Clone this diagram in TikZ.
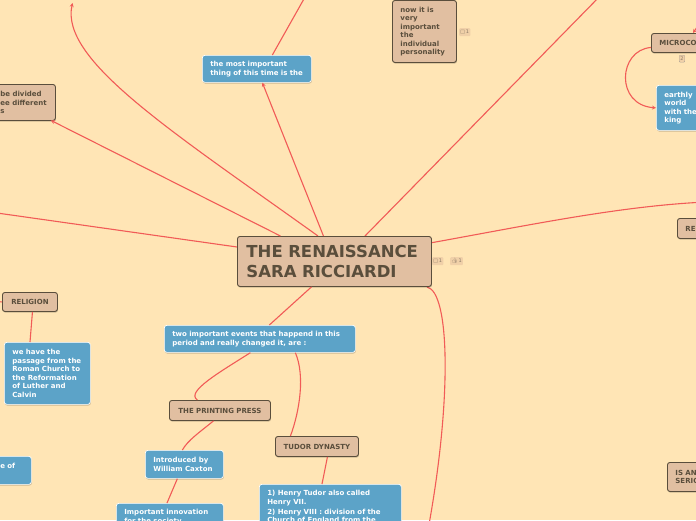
\documentclass[tikz,border=0pt]{standalone}
\usepackage{fontspec}
\setmainfont{DejaVu Sans}
\newfontfamily\emojifont{Noto Emoji}
\usepackage{tikz}
\usetikzlibrary{arrows.meta,positioning,shadows}
\definecolor{paper}{HTML}{FFE5B5}
\definecolor{tan}{HTML}{E1BFA1}
\definecolor{bark}{HTML}{5A4E3C}
\definecolor{sky}{HTML}{5CA3C8}
\definecolor{link}{HTML}{F15B57}
\definecolor{chip}{HTML}{F0D0A8}
\definecolor{chiptext}{HTML}{8C7A66}

\begin{document}
\begin{tikzpicture}[x=1pt,y=-1pt,
  font=\bfseries\fontsize{7}{8.5}\selectfont,
  mapbox/.style={rectangle,rounded corners=2.5pt,anchor=north west,align=left,
    inner xsep=8pt,inner ysep=0pt,
    drop shadow={shadow xshift=0.5pt,shadow yshift=-1.2pt,opacity=0.2,fill=black}},
  sz/.style n args={3}{minimum width=#1pt,minimum height=#2pt,text width=#3pt},
  tanbox/.style={mapbox,fill=tan,draw=bark,line width=0.9pt,text=bark},
  bluebox/.style={mapbox,fill=sky,draw=white,line width=0.7pt,text=white},
  chipbox/.style={rectangle,rounded corners=1pt,fill=chip,text=chiptext,inner xsep=1.2pt,
    inner ysep=0pt,minimum height=8pt,anchor=north west,font=\fontsize{5}{5}\selectfont},
  branch/.style={draw=link,line width=1.1pt},
  tip/.style={-{Stealth[length=4pt,width=4pt]}}]
\useasboundingbox (0,0) rectangle (696,520);
\fill[paper] (0,0) rectangle (696,520);
\clip (0,0) rectangle (696,520);

\coordinate (mostup) at (309,-10);
\coordinate (farleft) at (-10,212);
\coordinate (farup) at (604,-8);
\coordinate (farright) at (706,202);
\coordinate (farnorth) at (72.5,3);
\coordinate (microin) at (702,20);
\coordinate (farsouth) at (428,530);
\coordinate (relin) at (-10,301);

% connectors first, boxes on top
\path[branch,tip] (318,236) .. controls (170,130) and (60,60) .. (farnorth);
\path[branch] (237,247) -- (farleft);
\path[branch] (365,236) -- (farup);
\path[branch] (430,243) .. controls (530,225) and (620,206) .. (farright);
\path[branch] (427,287) .. controls (450,292) and (452,400) .. (farsouth);

\node[tanbox,sz={192}{50}{176},inner xsep=9pt,font=\bfseries\fontsize{16.5}{20}\selectfont] (title) at (237,236)
  {THE RENAISSANCE\\SARA RICCIARDI};
\node[chipbox] (titlechat) at (432,257) {□\,1};
\node[chipbox] (titlelike) at (450,257) {{\emojifont 👍}\,1};

\node[bluebox,sz={109}{27}{93}] (most) at (202,55) {the most important\\thing of this time is the};
\node[tanbox,sz={63}{36}{47}] (divided) at (-8,84) {be divided\\ee different\\s};
\node[tanbox,sz={64}{62}{48}] (now) at (392,0) {now it is\\very\\important\\the\\individual\\personality};
\node[chipbox] (nowchat) at (459,28) {□\,1};
\node[tanbox,sz={66}{19}{50}] (micro) at (651,33) {MICROCO};
\node[chipbox,draw=chiptext!70,line width=0.4pt,minimum height=7pt] (microchip) at (679,55) {2};
\node[bluebox,sz={50}{45}{34}] (earthly) at (656,85) {earthly\\world\\with the\\king};
\node[tanbox,sz={40}{20}{24}] (re) at (677,218) {RE};
\node[tanbox,sz={55}{19}{39},align=center] (religion) at (2,292) {RELIGION};
\node[bluebox,sz={86}{62}{70}] (wehave) at (4,342)
  {we have the\\passage from the\\Roman Church to\\the Reformation\\of Luther and\\Calvin};
\node[bluebox,sz={39}{28}{23}] (eof) at (-8,456) {e of\\[0pt]\mbox{}};
\node[bluebox,sz={191}{27}{175}] (two) at (164,325)
  {two important events that happend in this\\period and really changed it, are :};
\node[tanbox,sz={101}{20}{85},align=center] (press) at (169,400) {THE PRINTING PRESS};
\node[tanbox,sz={83}{20}{67},align=center] (tudor) at (275,436) {TUDOR DYNASTY};
\node[bluebox,sz={78}{28}{62}] (caxton) at (145,450) {Introduced by\\William Caxton};
\node[bluebox,minimum width=107pt,text width=91pt,inner ysep=6pt] (innov) at (116,503)
  {Important innovation\\for the society};
\node[bluebox,minimum width=142pt,text width=126pt,inner ysep=6pt] (henry) at (259,484)
  {1) Henry Tudor also called\\Henry VII.\\[1.5pt]2) Henry VIII : division of the\\Church of England from the};
\node[tanbox,sz={45}{29}{29}] (serio) at (667,462) {IS AN\\SERIO};

\draw[branch,tip] ([xshift=-11pt]title.north) -- ([xshift=5.5pt]most.south);
\draw[branch] ([xshift=15.5pt]most.north) -- (mostup);
\draw[branch,tip] ([xshift=-54pt]title.north) -- ([xshift=-5pt,yshift=0.5pt]divided.south east);
\draw[branch,tip] (microin) -- ([xshift=42pt]micro.north west);
\draw[branch,tip] ([yshift=-4.5pt]micro.west) .. controls (618,50) and (615,105) .. (earthly.west);
\draw[branch] ([xshift=-23pt]title.south) -- ([xshift=9.5pt]two.north);
\draw[branch] ([xshift=-9.5pt]two.south) .. controls (220,372) and (185,392) .. ([xshift=-22.5pt]press.north);
\draw[branch] ([xshift=35.5pt]two.south) .. controls (305,375) and (300,410) .. ([xshift=-26.5pt]tudor.north);
\draw[branch] ([xshift=-6.5pt]press.south) .. controls (200,432) and (188,440) .. ([xshift=-2pt]caxton.north);
\draw[branch] ([xshift=-7pt]caxton.south) -- ([xshift=51pt]innov.north west);
\draw[branch] ([xshift=10.5pt]tudor.south) -- ([xshift=63pt]henry.north west);
\draw[branch] ([xshift=2.5pt]religion.south) -- ([xshift=26pt]wehave.north west);
\draw[branch] (relin) -- (religion.west);
\end{tikzpicture}
\end{document}
